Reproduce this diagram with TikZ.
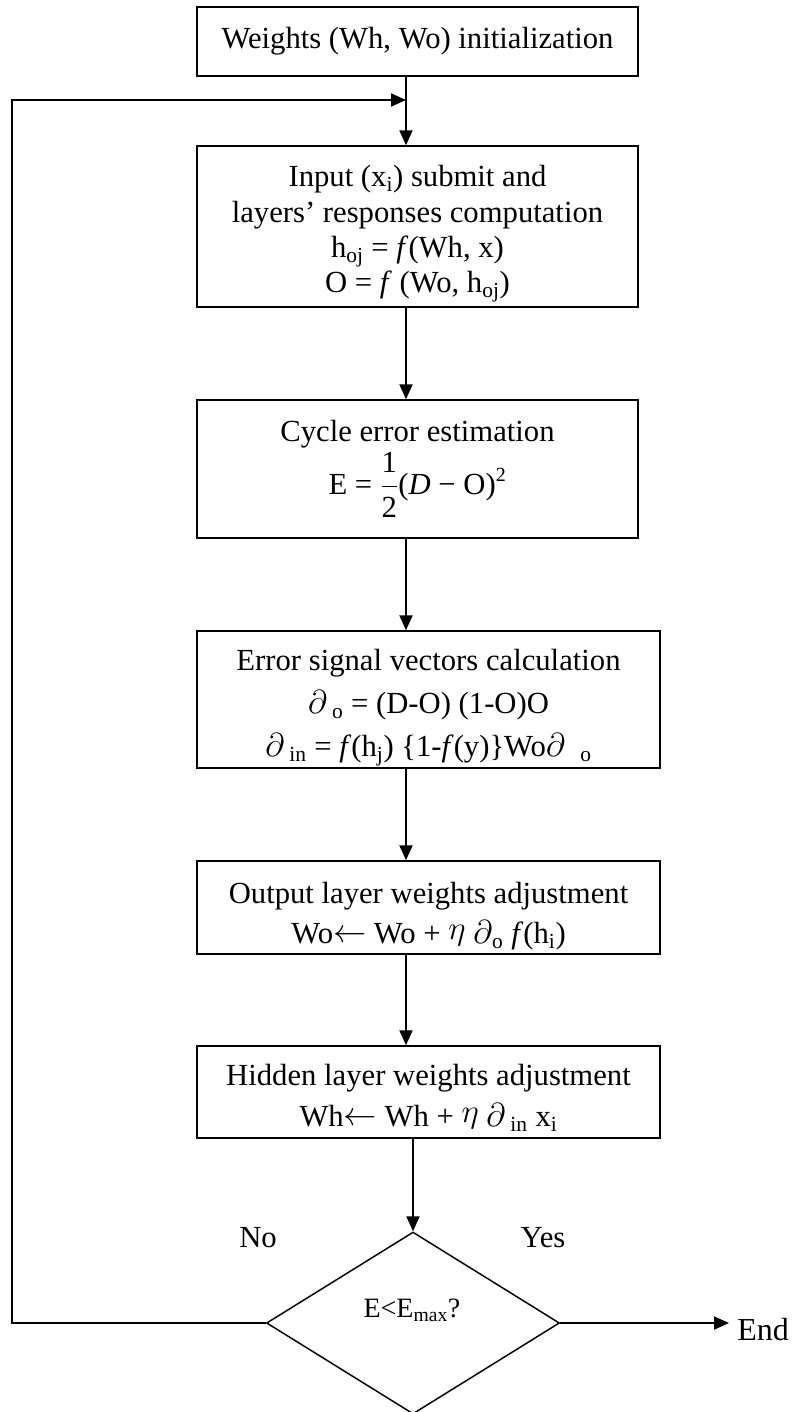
\documentclass[tikz,border=0pt]{standalone}
\usepackage{fontspec}
\setmainfont{Liberation Serif}
\usetikzlibrary{arrows.meta,shapes.geometric}
\begin{document}
\begin{tikzpicture}[x=0.75pt,y=-0.75pt,
  box/.style={draw,line width=1.1pt,minimum width=330.75pt,inner sep=0pt,align=center,font=\fontsize{23}{26.5}\selectfont},
  wbox/.style={box,minimum width=347.25pt},
  arr/.style={line width=1.5pt,-{Triangle[length=11.25pt,width=9.75pt]}},
  lbl/.style={font=\fontsize{23}{26.5}\selectfont,inner sep=0pt}]
\useasboundingbox (0,0) rectangle (802,1412);
\node[box,minimum height=51.75pt] (b1) at (417.5,41.5) {Weights (Wh, Wo) initialization};
\node[box,minimum height=120.75pt] (b2) at (417.5,226.5) {\rule{0pt}{27pt}Input (x\textsubscript{i}) submit and\\layers’ responses computation\\h\textsubscript{oj} = \textit{f}(Wh, x)\\O = \textit{f} (Wo, h\textsubscript{oj})};
\node[box,minimum height=103.5pt] (b3) at (417.5,469) {Cycle error estimation\\[2pt]$\displaystyle\mbox{E = }\frac{\mbox{1}}{\mbox{2}}\mbox{(\textit{D} − O)}^{\mbox{\fontsize{15}{15}\selectfont 2}}$};
\node[wbox,minimum height=102.75pt] (b4) at (428.5,699.5) {\rule{0pt}{28pt}Error signal vectors calculation\\[6pt]$\partial$\,\textsubscript{o} = (D-O) (1-O)O\\[6pt]$\partial$\,\textsubscript{in} = \textit{f}(h\textsubscript{j}) \{1-\textit{f}(y)\}Wo$\partial$\ \ \textsubscript{o}};
\node[wbox,minimum height=69.75pt] (b5) at (428.5,907.5) {\rule{0pt}{29pt}Output layer weights adjustment\\[4pt]Wo\raisebox{0.1ex}{$\leftarrow$} Wo + \raisebox{0.3ex}{$\eta$} $\partial$\textsubscript{o} \textit{f}(h\textsubscript{i})};
\node[wbox,minimum height=69pt] (b6) at (428.5,1092) {\rule{0pt}{25pt}Hidden layer weights adjustment\\[4pt]Wh\raisebox{0.1ex}{$\leftarrow$} Wh + \raisebox{0.3ex}{$\eta$} $\partial$\,\textsubscript{in} x\textsubscript{i}};
\node[draw,diamond,line width=1.1pt,minimum width=219.75pt,minimum height=136.5pt,inner sep=0pt] (d) at (413,1323) {};
\node[lbl,font=\fontsize{21}{24}\selectfont] (q) at (412,1310) {E<E\textsubscript{max}?};
\node[lbl] (no) at (258,1238) {No};
\node[lbl] (yes) at (543,1238) {Yes};
\node[lbl,anchor=west,inner sep=6pt,font=\fontsize{24}{27}\selectfont] (end) at (729,1330) {End};
\coordinate (join) at (406,100);
\coordinate (loopL) at (12,1323);
\draw[arr] (b1.south -| join) -- (b2.north -| join);
\draw[arr] (b2.south -| join) -- (b3.north -| join);
\draw[arr] (b3.south -| join) -- (b4.north -| join);
\draw[arr] (b4.south -| join) -- (b5.north -| join);
\draw[arr] (b5.south -| join) -- (b6.north -| join);
\draw[arr] (b6.south -| d.north) -- (d.north);
\draw[arr] (d.west) -- (loopL) |- (join);
\draw[arr] (d.east) -- (d.east -| end.west);
\end{tikzpicture}
\end{document}
